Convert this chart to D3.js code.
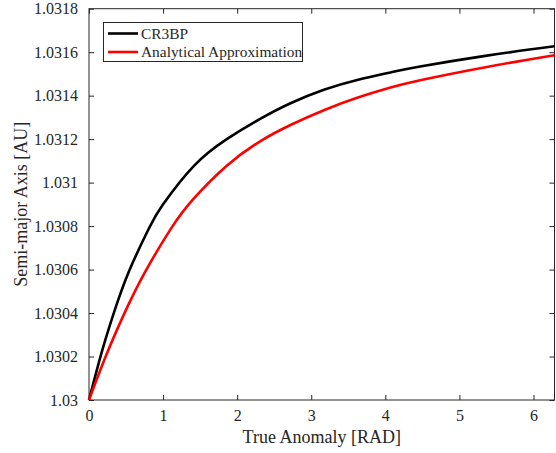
<!DOCTYPE html>
<html>
<head>
<meta charset="utf-8">
<script src="https://d3js.org/d3.v7.min.js"></script>
<style>
  body { margin: 0; background: #fff; }
  svg text { font-family: "Liberation Serif", "Times New Roman", serif; fill: #262626; }
</style>
</head>
<body>
<svg id="chart" width="556" height="453"></svg>
<script>
// CR3BP: true anomaly (rad) and semi-major axis (AU)
var nuCr3bp = [0, 0.17, 0.33, 0.54, 0.81, 1.0, 1.41, 1.86, 2.31, 2.72, 3.17, 3.62, 4.07, 4.47, 5.37, 6.283];
var cr3bp = [1.03, 1.030218, 1.030395, 1.030592, 1.030790, 1.030900, 1.031075, 1.031200, 1.031293, 1.031365, 1.031427, 1.031472, 1.031507, 1.031534, 1.031584, 1.031627];

// analytical approximation: true anomaly (rad) and semi-major axis (AU)
var nuApprox = [0, 0.225, 0.473, 0.743, 1.10, 1.41, 1.86, 2.31, 2.72, 3.17, 3.62, 4.07, 4.47, 5.37, 6.283];
var approx = [1.03, 1.030200, 1.030395, 1.030580, 1.030785, 1.030925, 1.031078, 1.031190, 1.031265, 1.031333, 1.031390, 1.031437, 1.031471, 1.031532, 1.031586];

var xTicks = [0, 1, 2, 3, 4, 5, 6];
var yTicks = [1.03, 1.0302, 1.0304, 1.0306, 1.0308, 1.031, 1.0312, 1.0314, 1.0316, 1.0318];

var series = [
  {name: "CR3BP", nu: nuCr3bp, values: cr3bp, color: "#000000"},
  {name: "Analytical Approximation", nu: nuApprox, values: approx, color: "#ff0000"}
];

var svg = d3.select("#chart");
// plot box (note: "top" is reserved on window, so use other names)
var pL = 89, pR = 554.5, pT = 8.7, pB = 400;

var x = d3.scaleLinear().domain([0, 2 * Math.PI]).range([pL, pR]);
var y = d3.scaleLinear().domain([1.03, 1.0318]).range([pB, pT]);

// axes (MATLAB style, ticks inside, box on)
var axCol = "#262626";
function styleAxis(g) {
  g.select(".domain").remove();
  g.selectAll("line").attr("stroke", axCol);
  g.selectAll("text").style("font-size", "16px").attr("fill", axCol)
    .style("font-family", "'Liberation Serif', serif");
}

svg.append("g").attr("transform", "translate(0," + pB + ")")
  .call(d3.axisBottom(x).tickValues(xTicks).tickFormat(d3.format("d")).tickSizeInner(-5).tickPadding(10))
  .call(styleAxis);
svg.append("g").attr("transform", "translate(0," + pT + ")")
  .call(d3.axisTop(x).tickValues(xTicks).tickSizeInner(-5).tickFormat(""))
  .call(styleAxis);
svg.append("g").attr("transform", "translate(" + pL + ",0)")
  .call(d3.axisLeft(y).tickValues(yTicks).tickFormat(function(d) { return +d.toFixed(4) + ""; }).tickSizeInner(-5).tickPadding(11))
  .call(styleAxis);
svg.append("g").attr("transform", "translate(" + pR + ",0)")
  .call(d3.axisRight(y).tickValues(yTicks).tickSizeInner(-5).tickFormat(""))
  .call(styleAxis);

svg.append("rect")
  .attr("x", pL).attr("y", pT)
  .attr("width", pR - pL).attr("height", pB - pT)
  .attr("fill", "none").attr("stroke", axCol).attr("stroke-width", 1);

// curves (natural spline for a smooth trace through the read points)
series.forEach(function(s) {
  var line = d3.line()
    .x(function(d, i) { return x(s.nu[i]); })
    .y(function(d) { return y(d); })
    .curve(d3.curveNatural);
  svg.append("path")
    .datum(s.values)
    .attr("d", line)
    .attr("fill", "none")
    .attr("stroke", s.color)
    .attr("stroke-width", 2.6);
});

// axis labels
svg.append("text")
  .attr("x", (pL + pR) / 2).attr("y", 443)
  .attr("text-anchor", "middle")
  .style("font-size", "18px")
  .text("True Anomaly [RAD]");

svg.append("text")
  .attr("transform", "translate(27," + ((pT + pB) / 2) + ") rotate(-90)")
  .attr("text-anchor", "middle")
  .style("font-size", "18px")
  .text("Semi-major Axis [AU]");

// legend
var legend = svg.append("g");
legend.append("rect")
  .attr("x", 103.5).attr("y", 22.5).attr("width", 199).attr("height", 39)
  .attr("fill", "#fff").attr("stroke", axCol).attr("stroke-width", 1);

series.forEach(function(s, i) {
  var ly = 33.5 + i * 18.5;
  legend.append("line")
    .attr("x1", 108).attr("x2", 138).attr("y1", ly).attr("y2", ly)
    .attr("stroke", s.color).attr("stroke-width", 2.6);
  legend.append("text")
    .attr("x", 141).attr("y", ly + 5)
    .style("font-size", "15.4px")
    .attr("fill", "#000")
    .text(s.name);
});
</script>
</body>
</html>
